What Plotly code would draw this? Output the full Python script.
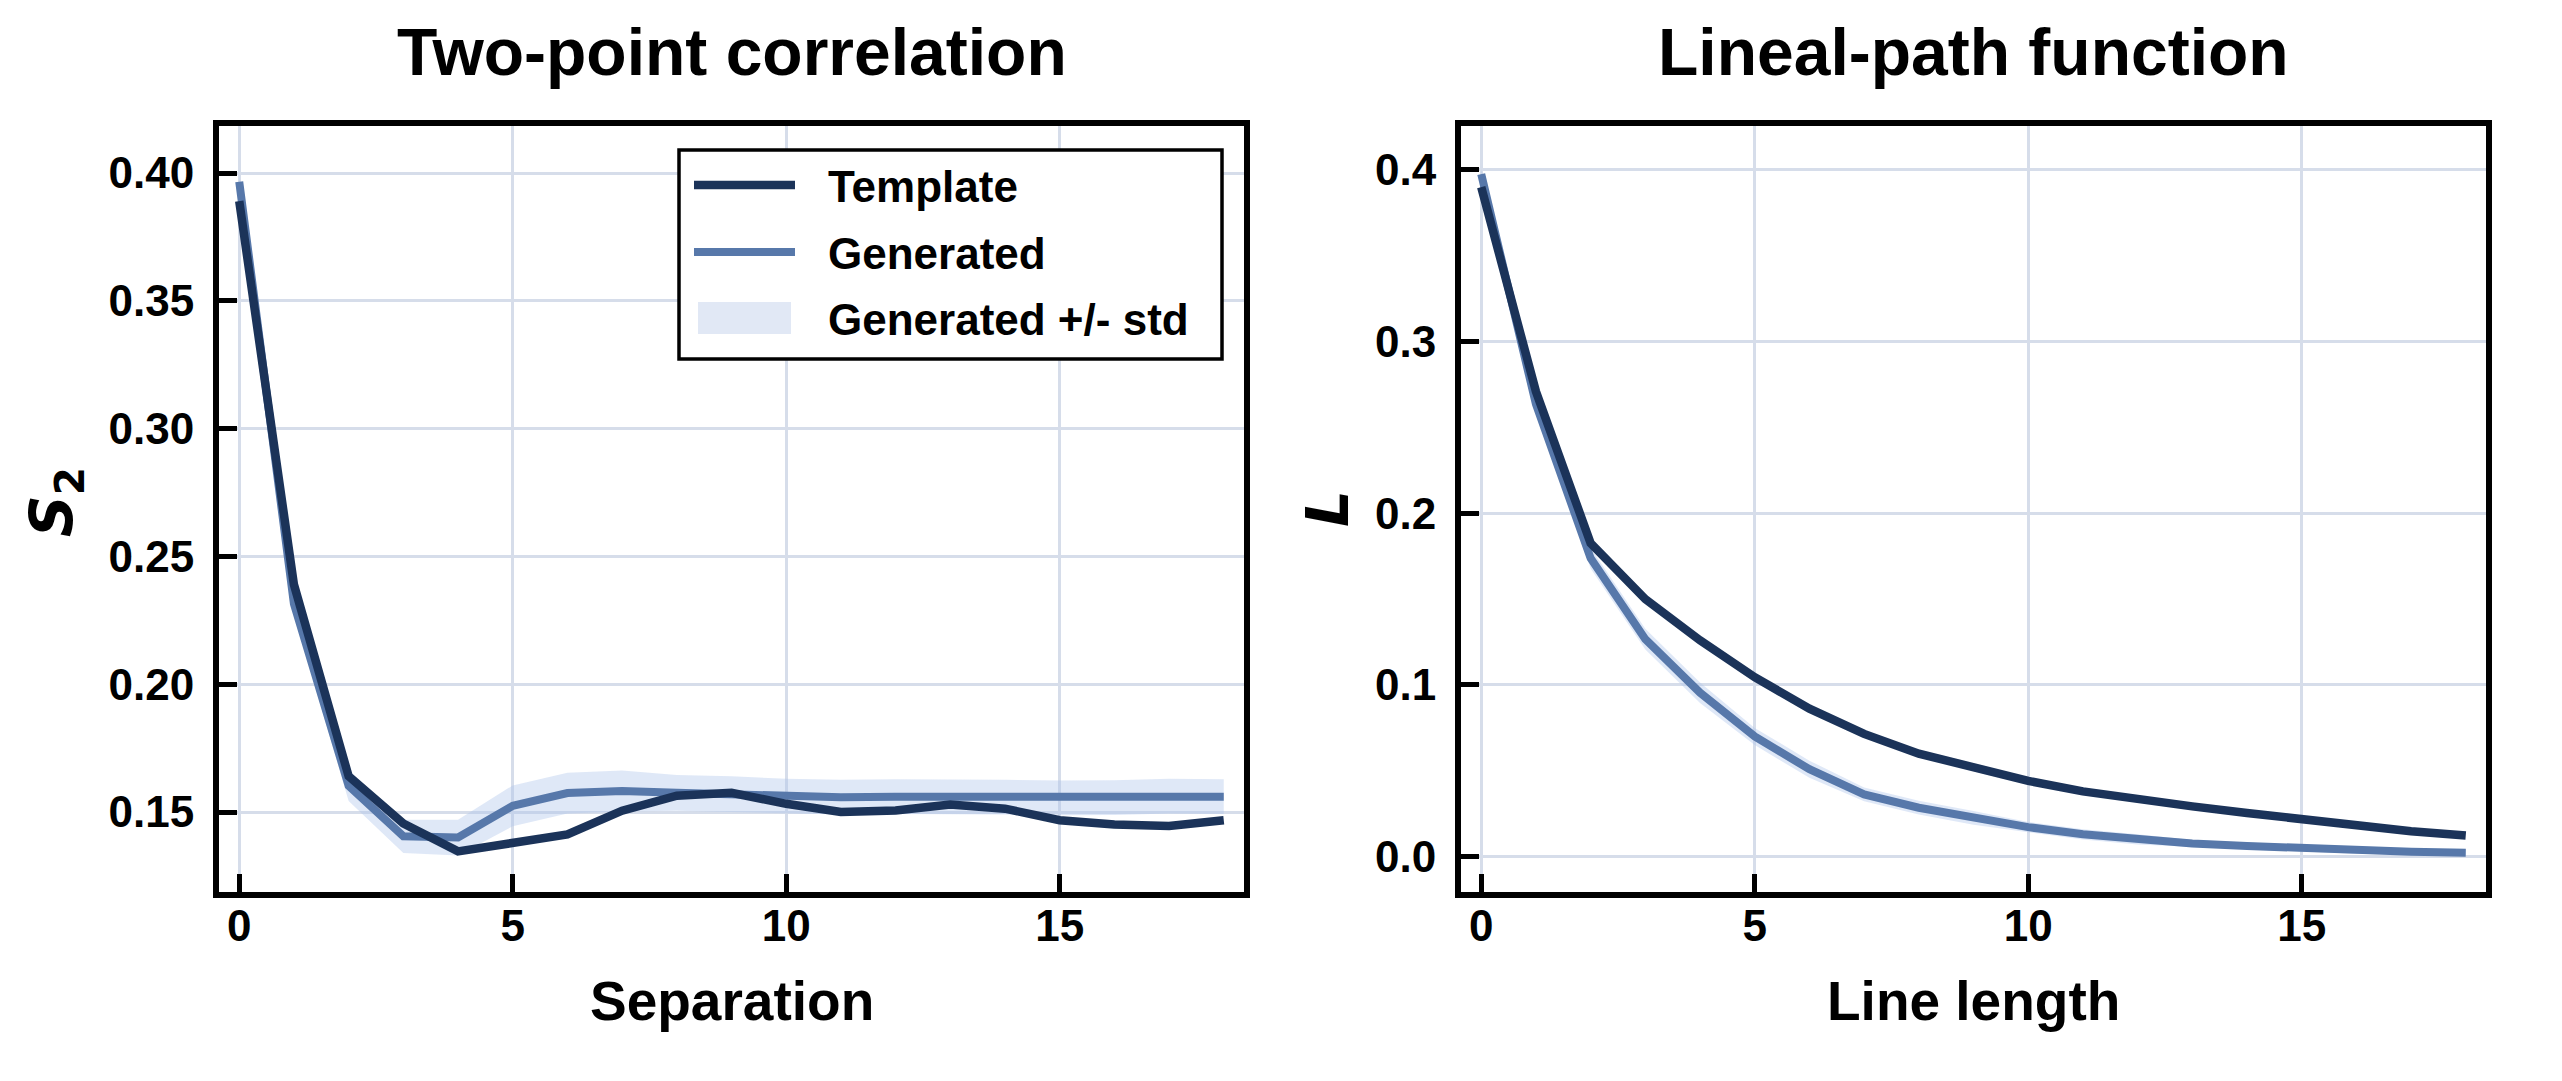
import plotly.graph_objects as go

# ---------------- data ----------------
separation = list(range(19))
s2_template = [0.389, 0.239, 0.164, 0.1455, 0.1346, 0.1376, 0.1412, 0.1505, 0.1564, 0.1575,
               0.1532, 0.1500, 0.1506, 0.1529, 0.1513, 0.1468, 0.1451, 0.1445, 0.1468]
s2_generated = [0.3966, 0.2314, 0.1603, 0.1405, 0.1400, 0.1524, 0.1574, 0.1582, 0.1575, 0.1570,
                0.1562, 0.1558, 0.1560, 0.1560, 0.1558, 0.1555, 0.1556, 0.1562, 0.1560]
s2_std = [0.003, 0.004, 0.006, 0.0065, 0.007, 0.008, 0.008, 0.008, 0.007, 0.007,
          0.0068, 0.0068, 0.0068, 0.0068, 0.0068, 0.0068, 0.0068, 0.0068, 0.0068]

line_length = list(range(19))
lp_template = [0.390, 0.271, 0.1826, 0.150, 0.126, 0.1045, 0.0862, 0.0715, 0.0600, 0.0524,
               0.0441, 0.0380, 0.0331, 0.0293, 0.0254, 0.0216, 0.0181, 0.0148, 0.0123]
lp_generated = [0.3976, 0.2636, 0.1738, 0.1267, 0.0955, 0.0700, 0.0509, 0.0362, 0.0285, 0.0226,
                0.0172, 0.0130, 0.0100, 0.0077, 0.0062, 0.0048, 0.0037, 0.0029, 0.0023]
lp_std = [0.003, 0.006, 0.006, 0.006, 0.006, 0.005, 0.005, 0.004, 0.004, 0.004,
          0.003, 0.003, 0.003, 0.002, 0.002, 0.002, 0.002, 0.0015, 0.0015]

x_ticks = [0, 5, 10, 15]
s2_ticks = [0.15, 0.20, 0.25, 0.30, 0.35, 0.40]
lp_ticks = [0.0, 0.1, 0.2, 0.3, 0.4]

legend_labels = ["Template", "Generated", "Generated +/- std"]

# ---------------- style ----------------
C_TEMPLATE = "#1b3359"
C_GENERATED = "#5778aa"
C_BAND = "rgba(175,198,235,0.40)"
C_BAND_SOLID = "#e1e8f5"
C_GRID = "#d6ddea"
FONT = "Liberation Sans"
LW_T, LW_G = 8.5, 8

W, H = 2562, 1081

fig = go.Figure()


def add_panel(x, tmpl, gen, std, xa, ya):
    lower = [g - s for g, s in zip(gen, std)]
    upper = [g + s for g, s in zip(gen, std)]
    fig.add_trace(go.Scatter(x=x, y=lower, mode="lines", line=dict(width=0, color=C_BAND),
                             showlegend=False, hoverinfo="skip", xaxis=xa, yaxis=ya))
    fig.add_trace(go.Scatter(x=x, y=upper, mode="lines", line=dict(width=0, color=C_BAND),
                             fill="tonexty", fillcolor=C_BAND, name=legend_labels[2],
                             showlegend=False, xaxis=xa, yaxis=ya))
    fig.add_trace(go.Scatter(x=x, y=gen, mode="lines", line=dict(width=LW_G, color=C_GENERATED),
                             name=legend_labels[1], showlegend=False, xaxis=xa, yaxis=ya))
    fig.add_trace(go.Scatter(x=x, y=tmpl, mode="lines", line=dict(width=LW_T, color=C_TEMPLATE),
                             name=legend_labels[0], showlegend=False, xaxis=xa, yaxis=ya))


add_panel(separation, s2_template, s2_generated, s2_std, "x", "y")
add_panel(line_length, lp_template, lp_generated, lp_std, "x2", "y2")

tickfont = dict(family=FONT, size=44, color="black", weight="bold")
common_axis = dict(showline=True, linecolor="black", linewidth=6, mirror=True,
                   ticks="inside", ticklen=18, tickwidth=5, tickcolor="black",
                   showgrid=True, gridcolor=C_GRID, gridwidth=3, zeroline=False,
                   tickfont=tickfont)

yd = [1 - 892 / H, 1 - 126 / H]
fig.update_layout(
    width=W, height=H,
    margin=dict(l=0, r=0, t=0, b=0),
    paper_bgcolor="white", plot_bgcolor="white",
    showlegend=False,
    xaxis=dict(domain=[219 / W, 1244 / W], range=[-0.37, 18.37], tickvals=x_ticks,
               anchor="y", ticklabelstandoff=-10, **common_axis),
    yaxis=dict(domain=yd, range=[0.1187, 0.4184], tickvals=s2_ticks, tickformat=".2f",
               anchor="x", ticklabelstandoff=10, **common_axis),
    xaxis2=dict(domain=[1461 / W, 2486 / W], range=[-0.37, 18.37], tickvals=x_ticks,
                anchor="y2", ticklabelstandoff=-10, **common_axis),
    yaxis2=dict(domain=yd, range=[-0.0206, 0.4256], tickvals=lp_ticks, tickformat=".1f",
                anchor="x2", ticklabelstandoff=10, **common_axis),
)

# ---------------- legend (drawn in paper coordinates) ----------------
def px(xp):
    return xp / W


def py(yp):
    return 1 - yp / H


fig.add_shape(type="rect", xref="paper", yref="paper", layer="above",
              x0=px(679), x1=px(1222), y0=py(150), y1=py(359),
              line=dict(color="black", width=3.5), fillcolor="white")
row_y = [185, 252, 318]
fig.add_shape(type="line", xref="paper", yref="paper", layer="above",
              x0=px(694), x1=px(795), y0=py(row_y[0]), y1=py(row_y[0]),
              line=dict(color=C_TEMPLATE, width=LW_T))
fig.add_shape(type="line", xref="paper", yref="paper", layer="above",
              x0=px(694), x1=px(795), y0=py(row_y[1]), y1=py(row_y[1]),
              line=dict(color=C_GENERATED, width=LW_G))
fig.add_shape(type="rect", xref="paper", yref="paper", layer="above",
              x0=px(698), x1=px(791), y0=py(row_y[2] - 16), y1=py(row_y[2] + 16),
              line=dict(width=0), fillcolor=C_BAND_SOLID)
legend_font = dict(family=FONT, size=44, color="black", weight="bold")
for lab, yy in zip(legend_labels, row_y):
    fig.add_annotation(text=lab, xref="paper", yref="paper", x=px(826), y=py(yy + 1),
                       xanchor="left", yanchor="middle", showarrow=False, font=legend_font)

# ---------------- titles ----------------
title_font = dict(family=FONT, size=66, color="black", weight="bold")
label_font = dict(family=FONT, size=55, color="black", weight="bold")
sym_font = dict(family="DejaVu Sans", size=58, color="black", weight="bold")

annotations = [
    dict(text="Two-point correlation", x=(219 + 1244) / 2 / W, y=py(52), font=title_font),
    dict(text="Lineal-path function", x=(1461 + 2486) / 2 / W, y=py(52), font=title_font),
    dict(text="Separation", x=(219 + 1244) / 2 / W, y=py(1001), font=label_font),
    dict(text="Line length", x=(1461 + 2486) / 2 / W, y=py(1001), font=label_font),
    dict(text="<i>S</i><sub>2</sub>", x=px(56), y=py(502), font=sym_font, textangle=-90),
    dict(text="<i>L</i>", x=px(1328), y=py(509), font=sym_font, textangle=-90),
]
for a in annotations:
    fig.add_annotation(xref="paper", yref="paper", showarrow=False,
                       xanchor="center", yanchor="middle", **a)

fig.write_html("out.html")
